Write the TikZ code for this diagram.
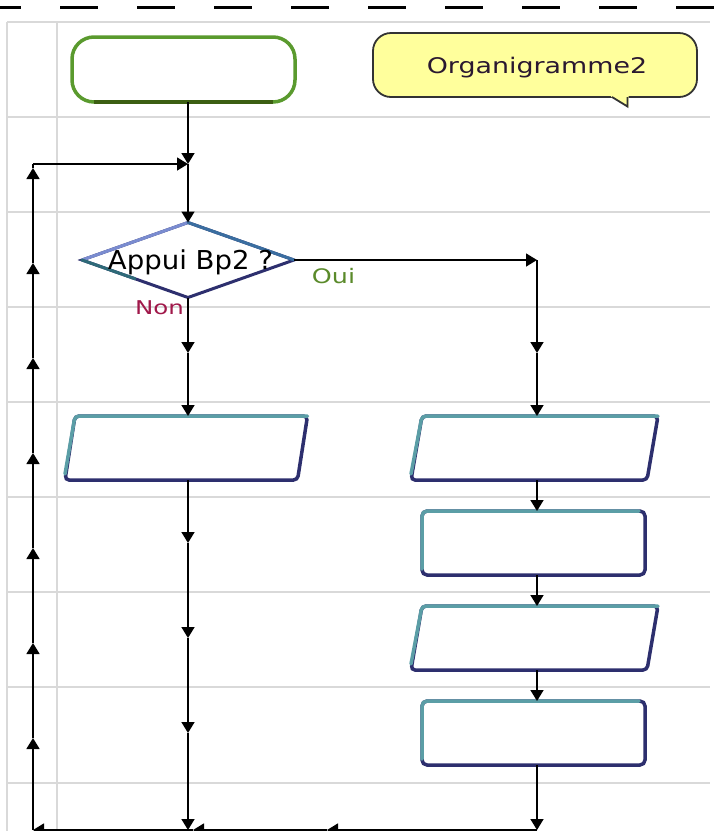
\documentclass[tikz,border=0pt]{standalone}
\usepackage{fontspec}
\setmainfont{DejaVu Sans}
\usetikzlibrary{arrows.meta,shapes.geometric,calc}
\definecolor{gridc}{HTML}{D9D9D9}
\definecolor{tealb}{HTML}{5B9EA6}
\definecolor{navyb}{HTML}{2D2F6E}
\definecolor{greenA}{HTML}{5A9A2E}
\definecolor{greenB}{HTML}{3C5F12}
\definecolor{noteY}{HTML}{FFFF9C}
\definecolor{ouiC}{HTML}{5A8A2A}
\definecolor{nonC}{HTML}{A0184A}
\definecolor{orgC}{HTML}{2A1830}
\definecolor{diaA}{HTML}{7A8CD0}
\definecolor{diaB}{HTML}{3A6EA0}
\definecolor{diaC}{HTML}{2E6A78}
\begin{document}
\begin{tikzpicture}[x=1pt,y=-1pt,
  every node/.style={outer sep=0pt},
  gridline/.style={draw=gridc,line width=2pt},
  conn/.style={draw=black,line width=1.6pt},
  arrowed/.style={-{Triangle[length=11pt,width=13pt]}},
  anchorbox/.style={rectangle,draw=none,inner sep=0pt,minimum width=#1,minimum height=64pt},
  boxline/.style={draw=navyb,line width=3.5pt,fill=white,rounded corners=4pt},
  boxhi/.style={draw=tealb,line width=3.5pt,rounded corners=4pt,line cap=round},
  rectbox/.style={rectangle,draw=navyb,line width=3.5pt,fill=white,rounded corners=5pt,minimum width=223pt,minimum height=64pt,inner sep=0pt}
]
\useasboundingbox (0,0) rectangle (720,831);
% top dashed line
\draw[black,line width=3pt,dash pattern=on 38pt off 39pt,dash phase=17pt] (0,7) -- (720,7);
% grid
\foreach \yy in {22,117,212,307,402,497,592,687,783}
  \draw[gridline] (7,\yy) -- (710,\yy);
\draw[gridline] (7,22) -- (7,831);
\draw[gridline] (57,22) -- (57,831);

% start terminal
\node[rectangle,rounded corners=22pt,minimum width=223pt,minimum height=65pt,draw=greenA,line width=3.5pt,fill=white] (start) at (183.5,69.5) {};
\draw[greenB,line width=3.5pt] ($(start.south west)+(22,0)$) -- ($(start.south east)+(-22,0)$);

% callout
\node[rectangle,rounded corners=18pt,minimum width=324pt,minimum height=64pt,draw=black!80,line width=1.8pt,fill=noteY] (note) at (535,65) {};
\fill[noteY] (610,95) -- (628.5,95) -- (628.5,107) -- (612,97.5) -- cycle;
\draw[black!80,line width=1.8pt,line join=miter] (612,97) -- (627.5,106.5) -- (627.5,97);
\node[font=\fontsize{21.5}{25}\selectfont,text=orgC,anchor=base] (notetext) at (537,73) {\scalebox{1.25}[1]{Organigramme2}};

% decision
\node[diamond,minimum width=212pt,minimum height=75pt,inner sep=0pt,draw=navyb,line width=3pt,fill=white] (dec) at (188,260) {};
\draw[diaA,line width=3pt,line cap=round] (dec.west) -- (dec.north);
\draw[diaB,line width=3pt,line cap=round] (dec.north) -- (dec.east);
\draw[diaC,line width=3pt,line cap=round] (dec.west) -- ($(dec.west)!0.5!(dec.south)$);
\node[font=\fontsize{26}{30}\selectfont,anchor=base] (dectext) at (190.5,269) {\scalebox{1.06}[1]{Appui Bp2 ?}};
\node[font=\fontsize{20}{24}\selectfont,text=ouiC,anchor=base] (oui) at (333.5,283) {\scalebox{1.27}[1]{Oui}};
\node[font=\fontsize{19}{23}\selectfont,text=nonC,anchor=base] (non) at (159.5,314) {\scalebox{1.29}[1]{Non}};

% parallelograms
\node[anchorbox=232.5pt] (p1) at (186.25,448) {};
\node[anchorbox=236pt] (p2) at (534.5,448) {};
\node[anchorbox=236pt] (p3) at (534.5,638) {};
\foreach \pp/\s in {p1/5,p2/5.5,p3/5.5}{
  \draw[boxline] ($(\pp.north west)+(\s,0)$) -- ($(\pp.north east)+(\s,0)$) -- ($(\pp.south east)+(-\s,0)$) -- ($(\pp.south west)+(-\s,0)$) -- cycle;
  \draw[boxhi] ($(\pp.south west)+(-\s,-6)$) -- ($(\pp.north west)+(\s,0)$) -- ($(\pp.north east)+(\s,0)$);
}
% rectangles
\node[rectbox] (r1) at (533.5,543) {};
\node[rectbox] (r2) at (533.5,733) {};
\foreach \rr in {r1,r2}{
  \draw[boxhi,rounded corners=5pt] ($(\rr.south west)+(0,-6)$) -- (\rr.north west) -- ($(\rr.north east)+(-6,0)$);
}

% coordinates
\coordinate (j1) at (188,164);
\coordinate (tl) at (33,164);
\coordinate (bl) at (33,830);
\coordinate (cr) at (537,260);
\coordinate (br) at (537,830);
\coordinate (bm) at (188,830);
\coordinate (na) at (188,353);
\coordinate (ra) at (537,353);
\coordinate (d1) at (188,543);
\coordinate (d2) at (188,638);
\coordinate (d3) at (188,733);
\coordinate (b1) at (327,830);
\coordinate (b2) at (193,830);
\foreach \k/\yy in {1/168,2/263,3/358,4/453,5/548,6/643,7/738}
  \coordinate (u\k) at (33,\yy);

% main column
\draw[conn,arrowed] (j1 |- start.south) -- (j1);
\draw[conn,arrowed] (j1) -- (dec.north);
% Non branch
\draw[conn,arrowed] (dec.south) -- (na);
\draw[conn,arrowed] (na) -- (na |- p1.north);
\draw[conn,arrowed] (na |- p1.south) -- (d1);
\draw[conn,arrowed] (d1) -- (d2);
\draw[conn,arrowed] (d2) -- (d3);
\draw[conn,arrowed] (d3) -- (bm);
% Oui branch
\draw[conn,arrowed] (dec.east) -- (cr);
\draw[conn,arrowed] (cr) -- (ra);
\draw[conn,arrowed] (ra) -- (ra |- p2.north);
\draw[conn,arrowed] (ra |- p2.south) -- (ra |- r1.north);
\draw[conn,arrowed] (ra |- r1.south) -- (ra |- p3.north);
\draw[conn,arrowed] (ra |- p3.south) -- (ra |- r2.north);
\draw[conn,arrowed] (ra |- r2.south) -- (br);
% bottom return
\draw[conn,arrowed] (br) -- (b1);
\draw[conn,arrowed] (b1) -- (b2);
\draw[conn,arrowed] (b2) -- (bl);
% left loop
\draw[conn,arrowed] (bl) -- (u7);
\draw[conn,arrowed] (u7) -- (u6);
\draw[conn,arrowed] (u6) -- (u5);
\draw[conn,arrowed] (u5) -- (u4);
\draw[conn,arrowed] (u4) -- (u3);
\draw[conn,arrowed] (u3) -- (u2);
\draw[conn,arrowed] (u2) -- (u1);
\draw[conn] (u1) -- (tl);
\draw[conn,arrowed] (tl) -- (j1);
\end{tikzpicture}
\end{document}
